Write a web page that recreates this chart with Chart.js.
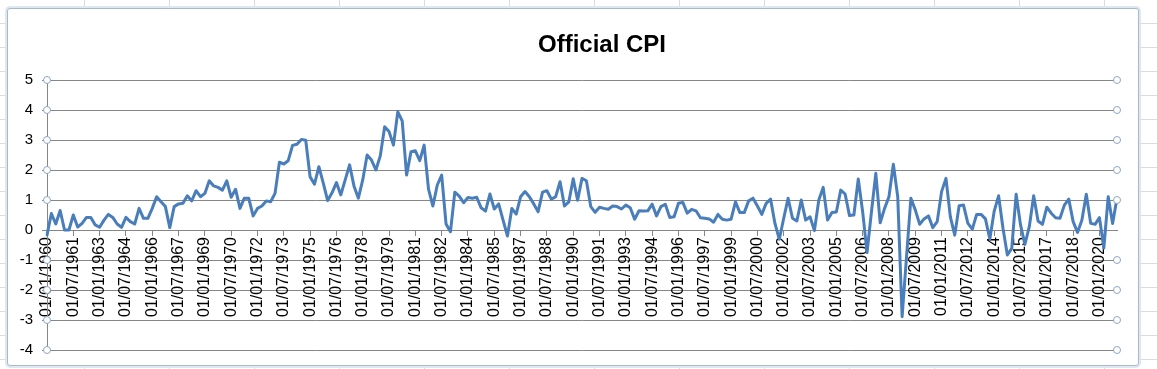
<!DOCTYPE html>
<html>
<head>
<meta charset="utf-8">
<script src="https://cdn.jsdelivr.net/npm/chart.js@4.4.1/dist/chart.umd.min.js"></script>
<style>
  html, body { margin: 0; padding: 0; background: #ffffff; }
  #sheet {
    position: absolute; left: 0; top: 0; width: 1157px; height: 369px;
    background-color: #ffffff;
    background-image:
      repeating-linear-gradient(to right, transparent 0, transparent 84px, #dadcdd 84px, #dadcdd 85px, transparent 85px, transparent 80px),
      repeating-linear-gradient(to bottom, transparent 0, transparent 23px, #dadcdd 23px, #dadcdd 24px);
  }
  #frame {
    position: absolute; left: 7px; top: 8px; width: 1130px; height: 356px;
    background: #ffffff;
    border: 1px solid #a9b9c9;
    border-radius: 3px;
    box-shadow: 0 0 0 2px #dfe8f1;
  }
  canvas { position: absolute; left: 0; top: 0; }
</style>
</head>
<body>
<div id="sheet"></div>
<div id="frame"></div>
<canvas id="c" width="1157" height="369"></canvas>
<script>
// ---- data ----
const chartTitle = "Official CPI";
const startYear = 1960;
const quarterMonths = ["01", "04", "07", "10"];
const yTicks = [-4, -3, -2, -1, 0, 1, 2, 3, 4, 5];

const cpi1960s = [-0.17, 0.55, 0.2, 0.65, 0.0, 0.0, 0.5, 0.1, 0.22, 0.42, 0.42, 0.17, 0.09, 0.33, 0.52, 0.42, 0.2, 0.09, 0.42, 0.28, 0.2, 0.72, 0.39, 0.39, 0.72, 1.11, 0.94, 0.78, 0.08, 0.78, 0.87, 0.89, 1.14, 0.97, 1.31, 1.11, 1.22, 1.64, 1.47, 1.42];
const cpi1970s = [1.33, 1.64, 1.09, 1.36, 0.72, 1.06, 1.06, 0.47, 0.72, 0.8, 0.97, 0.94, 1.22, 2.26, 2.2, 2.31, 2.82, 2.86, 3.02, 2.99, 1.77, 1.53, 2.11, 1.56, 0.98, 1.24, 1.58, 1.17, 1.67, 2.17, 1.47, 1.06, 1.67, 2.5, 2.33, 2.0, 2.47, 3.44, 3.28, 2.83];
const cpi1980s = [3.94, 3.64, 1.83, 2.61, 2.64, 2.31, 2.83, 1.36, 0.8, 1.5, 1.83, 0.2, -0.06, 1.26, 1.13, 0.91, 1.08, 1.06, 1.09, 0.74, 0.63, 1.2, 0.7, 0.87, 0.33, -0.2, 0.72, 0.53, 1.11, 1.28, 1.11, 0.87, 0.61, 1.26, 1.31, 1.03, 1.11, 1.61, 0.8, 0.94];
const cpi1990s = [1.71, 0.99, 1.72, 1.64, 0.78, 0.59, 0.76, 0.72, 0.69, 0.8, 0.78, 0.7, 0.83, 0.74, 0.36, 0.64, 0.63, 0.64, 0.86, 0.47, 0.78, 0.86, 0.42, 0.44, 0.89, 0.92, 0.56, 0.69, 0.64, 0.41, 0.39, 0.37, 0.26, 0.52, 0.36, 0.33, 0.36, 0.94, 0.58, 0.58];
const cpi2000s = [0.97, 1.06, 0.8, 0.52, 0.89, 1.03, 0.22, -0.31, 0.39, 1.06, 0.39, 0.3, 1.0, 0.33, 0.44, -0.02, 1.0, 1.42, 0.33, 0.58, 0.6, 1.33, 1.2, 0.48, 0.5, 1.7, 0.61, -0.75, 0.6, 1.89, 0.24, 0.72, 1.11, 2.19, 1.11, -2.89, -0.9, 1.06, 0.67, 0.19];
const cpi2010s = [0.37, 0.47, 0.08, 0.28, 1.28, 1.72, 0.44, -0.17, 0.81, 0.83, 0.22, 0.03, 0.52, 0.52, 0.37, -0.3, 0.63, 1.14, 0.06, -0.83, -0.61, 1.19, 0.17, -0.48, 0.11, 1.14, 0.3, 0.19, 0.76, 0.56, 0.41, 0.39, 0.83, 1.03, 0.28, -0.08, 0.33, 1.19, 0.22, 0.19];
const cpi2020s = [0.41, -0.6, 1.11, 0.22, 1.06];

const cpiValues = [].concat(cpi1960s, cpi1970s, cpi1980s, cpi1990s, cpi2000s, cpi2010s, cpi2020s);
const quarterLabels = cpiValues.map((v, i) =>
  "01/" + quarterMonths[i % 4] + "/" + (startYear + Math.floor(i / 4)));
const labelEvery = 6;

// ---- plugins ----
const handlesPlugin = {
  id: 'handles',
  afterDraw(chart) {
    const ctx = chart.ctx, y = chart.scales.y, a = chart.chartArea;
    ctx.save();
    ctx.strokeStyle = '#8ea6bf';
    ctx.fillStyle = '#ffffff';
    ctx.lineWidth = 1;
    yTicks.forEach(v => {
      if (v === 0) return;
      const py = y.getPixelForValue(v);
      [a.left, a.right].forEach(px => {
        ctx.beginPath();
        ctx.arc(px, py, 3.5, 0, Math.PI * 2);
        ctx.fill();
        ctx.stroke();
      });
    });
    ctx.restore();
  }
};
const titlePlugin = {
  id: 'customTitle',
  afterDraw(chart) {
    const ctx = chart.ctx, a = chart.chartArea;
    ctx.save();
    ctx.font = 'bold 24px "Liberation Sans", Arial, sans-serif';
    ctx.fillStyle = '#000000';
    ctx.textAlign = 'center';
    ctx.textBaseline = 'middle';
    ctx.fillText(chartTitle, (a.left + a.right) / 2 + 20, 45);
    ctx.restore();
  }
};

new Chart(document.getElementById('c'), {
  type: 'line',
  data: {
    labels: quarterLabels,
    datasets: [{
      label: chartTitle,
      data: cpiValues,
      borderColor: '#4a7ebb',
      borderWidth: 3,
      pointRadius: 0,
      tension: 0,
      fill: false,
      borderJoinStyle: 'round',
      borderCapStyle: 'round'
    }]
  },
  options: {
    responsive: false,
    animation: false,
    layout: { padding: { top: 80, right: 40, bottom: 19, left: 0 } },
    plugins: {
      legend: { display: false },
      title: { display: false },
      tooltip: { enabled: false }
    },
    scales: {
      x: {
        type: 'category',
        position: { y: 0 },
        offset: false,
        grid: { display: true, drawOnChartArea: false, drawTicks: true, tickLength: 5, color: '#868686' },
        border: { display: true, color: '#868686', width: 1 },
        ticks: {
          autoSkip: false,
          minRotation: 90,
          maxRotation: 90,
          padding: 2,
          color: '#000000',
          font: { family: '"Liberation Sans", Arial, sans-serif', size: 16 },
          callback(val, idx) { return idx % labelEvery === 0 ? quarterLabels[idx] : null; }
        }
      },
      y: {
        min: -4,
        max: 5,
        afterFit(scale) { scale.width = 47; },
        afterBuildTicks(scale) { scale.ticks = yTicks.map(v => ({ value: v })); },
        grid: { color: '#868686', lineWidth: 1, drawTicks: true, tickLength: 5 },
        border: { display: true, color: '#868686' },
        ticks: {
          padding: 9,
          color: '#000000',
          font: { family: '"Liberation Sans", Arial, sans-serif', size: 15 }
        }
      }
    }
  },
  plugins: [handlesPlugin, titlePlugin]
});
</script>
</body>
</html>
